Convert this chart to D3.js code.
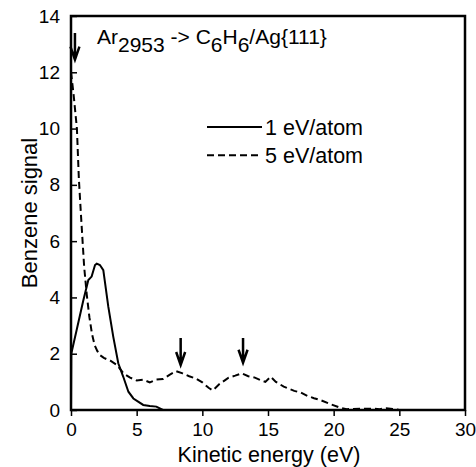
<!DOCTYPE html>
<html>
<head>
<meta charset="utf-8">
<script src="https://cdn.jsdelivr.net/npm/d3@7"></script>
<style>
    body { margin: 0; background: #fff; }
    svg text { font-family: "Liberation Sans", Arial, sans-serif; fill: #000; }
</style>
</head>
<body>
<div id="chart"></div>
<script>
// 1 eV/atom (solid)
const energy1 = [0, 0.02, 0.43, 0.94, 1.32, 1.57, 1.83, 1.96, 2.2, 2.46, 2.84, 3.22, 3.6, 3.98, 4.37, 4.75, 5.5, 6.0, 6.5, 7.0, 30];
const signal1 = [0, 2.0, 2.84, 3.9, 4.62, 4.74, 5.15, 5.2, 5.15, 4.97, 3.67, 2.6, 1.66, 1.18, 0.65, 0.41, 0.18, 0.14, 0.12, 0, 0];

// 5 eV/atom (dashed)
const energy5 = [0, 0.2, 0.45, 0.6, 0.75, 1.0, 1.2, 1.4, 1.6, 1.8, 2.0, 2.2, 2.5, 3.0, 3.5, 4.0, 4.5, 5.0, 5.5, 6.0, 6.5, 7.0, 7.5, 8.0, 8.5, 9.0, 9.5, 10.0, 10.5, 10.8, 11.3, 12.0, 12.5, 13.0, 13.5, 14.0, 14.5, 14.8, 15.2, 15.6, 16.2, 17.0, 17.5, 18.0, 18.5, 19.0, 19.8, 20.5, 21.0, 22.0, 23.0, 23.5, 24.0, 24.5, 25.0];
const signal5 = [12.0, 11.2, 10.0, 8.2, 7.0, 5.1, 4.1, 3.3, 2.7, 2.3, 2.1, 1.95, 1.85, 1.75, 1.6, 1.3, 1.15, 1.05, 1.08, 0.98, 1.08, 1.1, 1.25, 1.38, 1.3, 1.2, 1.12, 0.98, 0.78, 0.7, 0.92, 1.15, 1.22, 1.3, 1.2, 1.15, 1.05, 1.0, 1.18, 1.0, 0.83, 0.68, 0.62, 0.5, 0.42, 0.35, 0.2, 0.08, 0.03, 0.04, 0.05, 0.03, 0.06, 0.04, 0];

// arrows: energy, top, tip
const arrowX = [0.3, 8.35, 13.1];
const arrowTop = [13.4, 2.56, 2.56];
const arrowTip = [12.45, 1.6, 1.68];

const xTicks = [0, 5, 10, 15, 20, 25, 30];
const yTicks = [0, 2, 4, 6, 8, 10, 12, 14];

const legendLabels = ["1 eV/atom", "5 eV/atom"];

const margin = { top: 16, right: 11, bottom: 57, left: 71 };
const width = 476 - margin.left - margin.right;
const height = 467 - margin.top - margin.bottom;

const svg = d3.select("#chart").append("svg")
    .attr("width", 476)
    .attr("height", 467);

const g = svg.append("g")
    .attr("transform", "translate(" + margin.left + "," + margin.top + ")");

const x = d3.scaleLinear().domain([0, 30]).range([0, width]);
const y = d3.scaleLinear().domain([0, 14]).range([height, 0]);

const line = d3.line()
    .x(d => x(d[0]))
    .y(d => y(d[1]));

const data1 = energy1.map((e, i) => [e, signal1[i]]);
const data5 = energy5.map((e, i) => [e, signal5[i]]);

g.append("path")
    .datum(data5)
    .attr("d", line)
    .style("fill", "none")
    .style("stroke", "#000")
    .style("stroke-width", 2)
    .style("stroke-dasharray", "7,4");

g.append("path")
    .datum(data1)
    .attr("d", line)
    .style("fill", "none")
    .style("stroke", "#000")
    .style("stroke-width", 2);

// axes
const xAxis = g.append("g")
    .attr("transform", "translate(0," + height + ")")
    .call(d3.axisBottom(x).tickValues(xTicks).tickSize(6).tickSizeOuter(0).tickPadding(7));

const yAxis = g.append("g")
    .call(d3.axisLeft(y).tickValues(yTicks).tickSize(-6).tickSizeOuter(0).tickPadding(11));

[xAxis, yAxis].forEach(a => {
    a.select(".domain").remove();
    a.selectAll("line").style("stroke", "#000").style("stroke-width", 1.5);
    a.selectAll("text").style("font-size", "19px").style("font-family", '"Liberation Sans", Arial, sans-serif');
});

// frame
g.append("rect")
    .attr("x", 0).attr("y", 0)
    .attr("width", width).attr("height", height)
    .style("fill", "none")
    .style("stroke", "#000")
    .style("stroke-width", 2.5);

// arrows
arrowX.forEach((ax, i) => {
    const px = x(ax), top = y(arrowTop[i]), tip = y(arrowTip[i]);
    g.append("path")
        .attr("d", "M" + px + "," + top + "L" + px + "," + tip +
            "M" + (px - 4.5) + "," + (tip - 13) + "L" + px + "," + tip + "L" + (px + 4.5) + "," + (tip - 13))
        .style("fill", "none")
        .style("stroke", "#000")
        .style("stroke-width", 2.5);
});

// title
const title = g.append("text")
    .attr("x", 26)
    .attr("y", 28)
    .style("font-size", "21px");
title.append("tspan").text("Ar");
title.append("tspan").attr("dy", 8).text("2953");
title.append("tspan").attr("dy", -8).text(" -> C");
title.append("tspan").attr("dy", 8).text("6");
title.append("tspan").attr("dy", -8).text("H");
title.append("tspan").attr("dy", 8).text("6");
title.append("tspan").attr("dy", -8).text("/Ag{111}");

// legend
const legendDash = [null, "7,4"];
legendLabels.forEach((lab, i) => {
    const ly = 111 + i * 28.3;
    g.append("line")
        .attr("x1", 136).attr("x2", 191)
        .attr("y1", ly).attr("y2", ly)
        .style("stroke", "#000")
        .style("stroke-width", 2)
        .style("stroke-dasharray", legendDash[i]);
    g.append("text")
        .attr("x", 194)
        .attr("y", ly + 8)
        .style("font-size", "21.5px")
        .text(lab);
});

// axis titles
svg.append("text")
    .attr("x", 269)
    .attr("y", 461.5)
    .attr("text-anchor", "middle")
    .style("font-size", "21.5px")
    .text("Kinetic energy (eV)");

svg.append("text")
    .attr("transform", "translate(37," + (margin.top + height / 2) + ") rotate(-90)")
    .attr("text-anchor", "middle")
    .style("font-size", "22px")
    .text("Benzene signal");
</script>
</body>
</html>
